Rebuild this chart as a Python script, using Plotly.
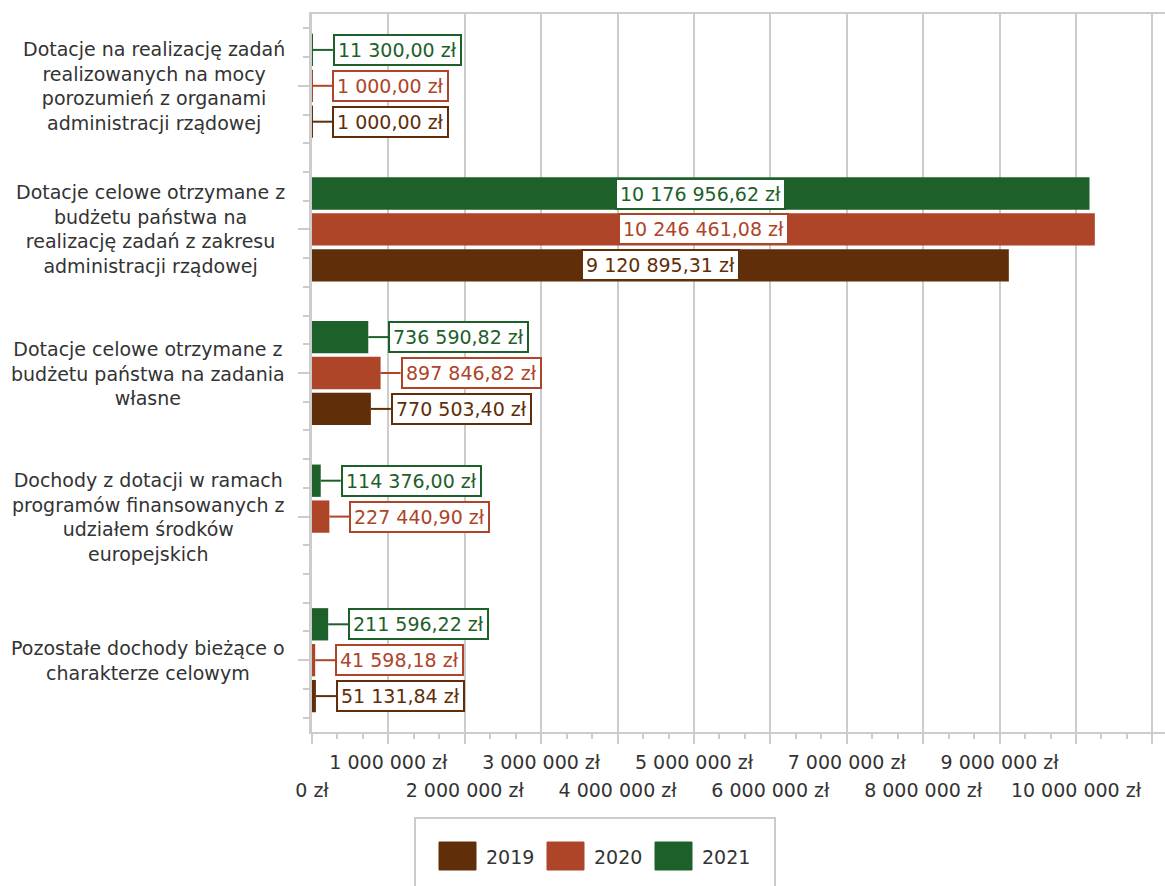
import plotly.graph_objects as go

# ---------------- data ----------------
categories = [
    "Dotacje na realizację zadań realizowanych na mocy porozumień z organami administracji rządowej",
    "Dotacje celowe otrzymane z budżetu państwa na realizację zadań z zakresu administracji rządowej",
    "Dotacje celowe otrzymane z budżetu państwa na zadania własne",
    "Dochody z dotacji w ramach programów finansowanych z udziałem środków europejskich",
    "Pozostałe dochody bieżące o charakterze celowym",
]
category_labels = [
    "Dotacje na realizację zadań<br>realizowanych na mocy<br>porozumień z organami<br>administracji rządowej",
    "Dotacje celowe otrzymane z<br>budżetu państwa na<br>realizację zadań z zakresu<br>administracji rządowej",
    "Dotacje celowe otrzymane z<br>budżetu państwa na zadania<br>własne",
    "Dochody z dotacji w ramach<br>programów finansowanych z<br>udziałem środków<br>europejskich",
    "Pozostałe dochody bieżące o<br>charakterze celowym",
]
years = ["2019", "2020", "2021"]
values_2019 = [1000.00, 9120895.31, 770503.40, None, 51131.84]
values_2020 = [1000.00, 10246461.08, 897846.82, 227440.90, 41598.18]
values_2021 = [11300.00, 10176956.62, 736590.82, 114376.00, 211596.22]
series_values = {"2019": values_2019, "2020": values_2020, "2021": values_2021}
series_colors = {"2019": "#602E08", "2020": "#AE4428", "2021": "#1E602A"}
x_tick_values = [0, 1e6, 2e6, 3e6, 4e6, 5e6, 6e6, 7e6, 8e6, 9e6, 10e6, 11e6]
x_max = 11.165e6

FONT = "DejaVu Sans"
TEXT = "#333333"
GRID = "#cccccc"


def pln(v, dec=2):
    s = f"{v:,.{dec}f}".replace(",", " ").replace(".", ",")
    return s + " zł"


ypos = list(range(len(categories)))
plot_order = ["2021", "2020", "2019"]  # top to bottom inside each group
bargap = 0.25
slot = (1 - bargap) / len(plot_order)

fig = go.Figure()
for yr in plot_order:
    fig.add_trace(go.Bar(
        name=yr, y=ypos, x=series_values[yr], orientation="h",
        marker=dict(color=series_colors[yr], line=dict(width=0)),
        showlegend=False, hoverinfo="x+name",
    ))
# empty helper trace so the second (staggered-label) x axis is rendered
fig.add_trace(go.Scatter(x=[], y=[], xaxis="x2", yaxis="y", mode="markers",
                         showlegend=False, hoverinfo="skip"))

shapes = []
annotations = []
for k, yr in enumerate(plot_order):
    off = (k - (len(plot_order) - 1) / 2) * slot
    c = series_colors[yr]
    for i, v in enumerate(series_values[yr]):
        if v is None:
            continue
        yk = ypos[i] + off
        box = dict(text=pln(v), xref="x", yref="y", y=yk, showarrow=False,
                   yanchor="middle", font=dict(family=FONT, size=19, color=c),
                   bgcolor="white", bordercolor=c, borderwidth=2, borderpad=3)
        if v > 0.2 * x_max:
            box.update(x=v / 2, xanchor="center")
        else:
            shapes.append(dict(type="line", xref="x", yref="y", xsizemode="pixel",
                               xanchor=v, x0=0, x1=20, y0=yk, y1=yk,
                               line=dict(color=c, width=2)))
            box.update(x=v, xanchor="left", xshift=20)
        annotations.append(box)

# category labels (centered multi-line)
for i, lab in enumerate(category_labels):
    annotations.append(dict(text=lab, xref="paper", x=0, xanchor="right", xshift=-25,
                            yref="y", y=ypos[i], yanchor="middle", align="center",
                            showarrow=False, font=dict(family=FONT, size=19, color=TEXT)))

# custom legend (box + swatches + labels), positioned in pixels from plot's bottom-left
shapes.append(dict(type="rect", xref="paper", yref="paper", xsizemode="pixel", ysizemode="pixel",
                   xanchor=0, yanchor=0, x0=103, x1=463, y0=-86, y1=-175,
                   line=dict(color=GRID, width=2), fillcolor="white", layer="below"))
for j, yr in enumerate(years):
    c = series_colors[yr]
    shapes.append(dict(type="rect", xref="paper", yref="paper", xsizemode="pixel", ysizemode="pixel",
                       xanchor=0, yanchor=0, x0=127 + 108 * j, x1=164 + 108 * j, y0=-110, y1=-138,
                       line=dict(color=c, width=1), fillcolor=c))
    annotations.append(dict(text=yr, xref="paper", yref="paper", x=0, y=0, xanchor="left",
                            yanchor="middle", xshift=172 + 108 * j, yshift=-125, showarrow=False,
                            font=dict(family=FONT, size=19, color=TEXT)))

odd_text = [pln(v, 0) if (int(v / 1e6) % 2 == 1 and v <= 10e6) else "" for v in x_tick_values]
even_vals = [v for v in x_tick_values if int(v / 1e6) % 2 == 0 and v <= 10e6]
even_text = [pln(v, 0) for v in even_vals]

fig.update_layout(
    width=1165, height=886,
    margin=dict(l=312, r=0, t=14, b=154),
    paper_bgcolor="white", plot_bgcolor="white",
    barmode="group", bargap=bargap, bargroupgap=0.1,
    showlegend=False,
    font=dict(family=FONT, size=19, color=TEXT),
    xaxis=dict(range=[0, x_max], tickmode="array", tickvals=x_tick_values, ticktext=odd_text,
               ticks="outside", ticklen=10, tickwidth=2, tickcolor=GRID,
               showline=True, linecolor=GRID, linewidth=2, mirror=True,
               showgrid=True, gridcolor=GRID, gridwidth=2, zeroline=False,
               tickfont=dict(family=FONT, size=19, color=TEXT), ticklabelstandoff=2,
               minor=dict(tickmode="linear", tick0=0, dtick=1e6 / 3, ticks="outside",
                          ticklen=5, tickwidth=2, tickcolor=GRID, showgrid=False)),
    xaxis2=dict(range=[0, x_max], overlaying="x", anchor="y", side="bottom",
                tickmode="array", tickvals=even_vals, ticktext=even_text,
                ticks="outside", ticklen=10, tickcolor="rgba(0,0,0,0)",
                showline=False, showgrid=False, zeroline=False,
                tickfont=dict(family=FONT, size=19, color=TEXT), ticklabelstandoff=31),
    yaxis=dict(range=[len(categories) - 0.5, -0.5], tickmode="array", tickvals=ypos,
               ticktext=[""] * len(ypos), ticks="outside", ticklen=11, tickwidth=2, tickcolor=GRID,
               showline=True, linecolor=GRID, linewidth=3, showgrid=False, zeroline=False,
               minor=dict(tickmode="linear", tick0=0, dtick=0.2, ticks="outside",
                          ticklen=6, tickwidth=2, tickcolor=GRID, showgrid=False)),
    shapes=shapes, annotations=annotations,
)

fig.write_html("out.html")
